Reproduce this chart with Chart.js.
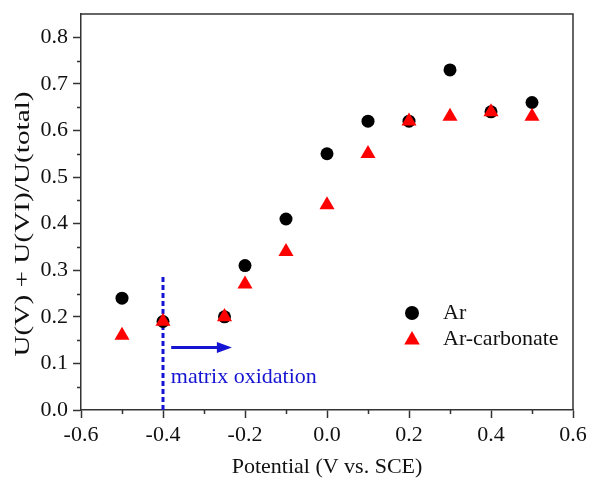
<!DOCTYPE html>
<html>
<head>
<meta charset="utf-8">
<script src="https://cdn.jsdelivr.net/npm/chart.js@4/dist/chart.umd.min.js"></script>
<style>
  html, body { margin: 0; padding: 0; background: #fff; }
  #wrap { width: 590px; height: 480px; position: relative; }
</style>
</head>
<body>
<div id="wrap"><canvas id="chart"></canvas></div>
<script>
// Applied potential (V vs. SCE)
const potentials = [-0.5, -0.4, -0.25, -0.2, -0.1, 0.0, 0.1, 0.2, 0.3, 0.4, 0.5];
// Fraction of oxidised uranium, U(V) + U(VI) over total U
const arRatio = [0.24, 0.19, 0.20, 0.31, 0.41, 0.55, 0.62, 0.62, 0.73, 0.64, 0.66];
const arCarbonateRatio = [0.16, 0.19, 0.20, 0.27, 0.34, 0.44, 0.55, 0.62, 0.63, 0.64, 0.63];
const seriesNames = ['Ar', 'Ar-carbonate'];

const xTickValues = [-0.6, -0.4, -0.2, 0.0, 0.2, 0.4, 0.6];
const xTickLabels = ['-0.6', '-0.4', '-0.2', '0.0', '0.2', '0.4', '0.6'];
const yTickValues = [0.0, 0.1, 0.2, 0.3, 0.4, 0.5, 0.6, 0.7, 0.8];
const yTickLabels = ['0.0', '0.1', '0.2', '0.3', '0.4', '0.5', '0.6', '0.7', '0.8'];
const xTitle = 'Potential (V vs. SCE)';
const yTitle = 'U(V) + U(VI)/U(total)';

// Onset of matrix oxidation marker
const onsetPotential = -0.4;
const onsetLineRange = [0.0, 0.29];
const arrowStart = -0.38;
const arrowEnd = -0.232;
const arrowLevel = 0.134;
const annotationText = 'matrix oxidation';
const annotationPos = [-0.381, 0.058];

const SERIF = '"Liberation Serif", "Times New Roman", serif';
const AXIS_COLOR = '#333333';
const TEXT_COLOR = '#111111';
const BLUE = '#1414d2';

const toPoints = (xs, ys) => xs.map((x, i) => ({ x: x, y: ys[i] }));

// Minor ticks halfway between the labelled ones, the top/right frame and the y title
const framePlugin = {
  id: 'frame',
  afterDraw(chart) {
    const { ctx, chartArea: a } = chart;
    const xs = chart.scales.x, ys = chart.scales.y;
    ctx.save();
    ctx.strokeStyle = AXIS_COLOR;
    ctx.lineWidth = 1.5;
    ctx.beginPath();
    ctx.moveTo(a.left, a.top);
    ctx.lineTo(a.right, a.top);
    ctx.lineTo(a.right, a.bottom);
    ctx.stroke();
    ctx.beginPath();
    for (let i = 0; i < xTickValues.length - 1; i++) {
      const px = Math.round(xs.getPixelForValue((xTickValues[i] + xTickValues[i + 1]) / 2)) + 0.5;
      ctx.moveTo(px, a.bottom);
      ctx.lineTo(px, a.bottom + 4);
    }
    for (let i = 0; i < yTickValues.length - 1; i++) {
      const py = Math.round(ys.getPixelForValue((yTickValues[i] + yTickValues[i + 1]) / 2)) + 0.5;
      ctx.moveTo(a.left, py);
      ctx.lineTo(a.left - 4, py);
    }
    ctx.stroke();

    // rotated y-axis title, slightly widened serif
    ctx.translate(23, (a.top + a.bottom) / 2 + 12);
    ctx.rotate(-Math.PI / 2);
    ctx.scale(1.33, 1);
    ctx.fillStyle = TEXT_COLOR;
    ctx.font = '22px ' + SERIF;
    ctx.textAlign = 'center';
    ctx.textBaseline = 'middle';
    ctx.fillText(yTitle, 0, 0);
    ctx.restore();
  }
};

// Arrow head, annotation text and legend
const annotationPlugin = {
  id: 'annotation',
  afterDatasetsDraw(chart) {
    const { ctx, chartArea: a } = chart;
    const xs = chart.scales.x, ys = chart.scales.y;
    ctx.save();
    const tipX = xs.getPixelForValue(arrowEnd);
    const tipY = ys.getPixelForValue(arrowLevel);
    ctx.fillStyle = BLUE;
    ctx.beginPath();
    ctx.moveTo(tipX, tipY);
    ctx.lineTo(tipX - 15, tipY - 5.5);
    ctx.lineTo(tipX - 15, tipY + 5.5);
    ctx.closePath();
    ctx.fill();

    ctx.font = '22px ' + SERIF;
    ctx.textBaseline = 'alphabetic';
    ctx.textAlign = 'left';
    ctx.fillText(annotationText, xs.getPixelForValue(annotationPos[0]), ys.getPixelForValue(annotationPos[1]));

    // legend
    const styles = [
      { pointStyle: 'circle', radius: 7, color: '#000000' },
      { pointStyle: 'triangle', radius: 9, color: '#ff0000' }
    ];
    const mx = a.right - 161, tx = a.right - 130;
    const rowY = [a.top + 299, a.top + 325];
    styles.forEach((s, i) => {
      ctx.fillStyle = s.color;
      Chart.helpers.drawPoint(ctx, { pointStyle: s.pointStyle, radius: s.radius, borderWidth: 0, rotation: 0 }, mx, rowY[i] + (i === 1 ? 1 : 0));
      ctx.fillStyle = TEXT_COLOR;
      ctx.font = '22px ' + SERIF;
      ctx.textBaseline = 'middle';
      ctx.fillText(seriesNames[i], tx, rowY[i]);
    });
    ctx.restore();
  }
};

new Chart(document.getElementById('chart'), {
  type: 'scatter',
  data: {
    datasets: [
      {
        label: seriesNames[0],
        data: toPoints(potentials, arRatio),
        pointStyle: 'circle',
        pointRadius: 6.5,
        pointBackgroundColor: '#000000',
        pointBorderWidth: 0,
        order: 2
      },
      {
        label: seriesNames[1],
        data: toPoints(potentials, arCarbonateRatio),
        pointStyle: 'triangle',
        pointRadius: 8.7,
        pointBackgroundColor: '#ff0000',
        pointBorderWidth: 0,
        order: 1
      },
      {
        label: 'onset',
        data: onsetLineRange.map(v => ({ x: onsetPotential, y: v })),
        showLine: true,
        borderColor: BLUE,
        borderWidth: 3,
        borderDash: [5, 3],
        pointRadius: 0,
        order: 3
      },
      {
        label: 'direction',
        data: [{ x: arrowStart, y: arrowLevel }, { x: arrowEnd - 0.02, y: arrowLevel }],
        showLine: true,
        borderColor: BLUE,
        borderWidth: 3,
        pointRadius: 0,
        order: 3
      }
    ]
  },
  options: {
    responsive: true,
    maintainAspectRatio: false,
    animation: false,
    devicePixelRatio: 1,
    layout: { padding: { left: 0, top: 14, right: 17, bottom: 0 } },
    plugins: { legend: { display: false }, tooltip: { enabled: false } },
    scales: {
      x: {
        type: 'linear',
        min: -0.6,
        max: 0.6,
        afterBuildTicks: s => { s.ticks = xTickValues.map(v => ({ value: v })); },
        afterFit: s => { s.height = 70; s.paddingLeft = 0; s.paddingRight = 0; },
        ticks: {
          callback: (v, i) => xTickLabels[i],
          color: TEXT_COLOR,
          font: { family: SERIF, size: 22 },
          padding: 4,
          maxRotation: 0,
          autoSkip: false
        },
        grid: { drawOnChartArea: false, drawTicks: true, tickLength: 8, tickColor: AXIS_COLOR, tickWidth: 1.5 },
        border: { display: true, color: AXIS_COLOR, width: 1.5 },
        title: {
          display: true,
          text: xTitle,
          color: TEXT_COLOR,
          font: { family: SERIF, size: 22 },
          padding: { top: 0, bottom: 0 }
        }
      },
      y: {
        type: 'linear',
        min: 0,
        max: 0.85,
        afterBuildTicks: s => { s.ticks = yTickValues.map(v => ({ value: v })); },
        afterFit: s => { s.width = 81; s.paddingTop = 0; s.paddingBottom = 0; },
        ticks: {
          callback: (v, i) => yTickLabels[i],
          color: TEXT_COLOR,
          font: { family: SERIF, size: 22 },
          padding: 5,
          autoSkip: false
        },
        grid: { drawOnChartArea: false, drawTicks: true, tickLength: 8, tickColor: AXIS_COLOR, tickWidth: 1.5 },
        border: { display: true, color: AXIS_COLOR, width: 1.5 },
        title: { display: false }
      }
    }
  },
  plugins: [framePlugin, annotationPlugin]
});
</script>
</body>
</html>
